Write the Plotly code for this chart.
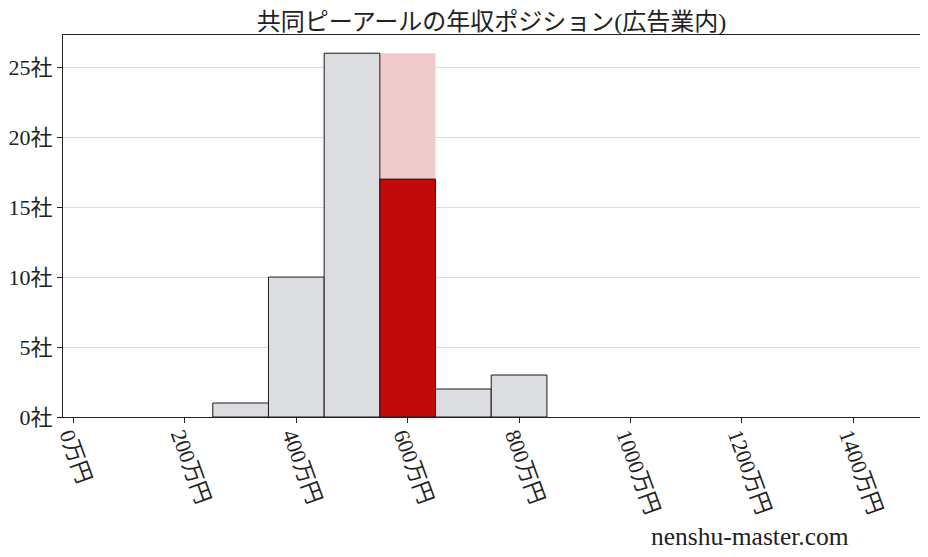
import plotly.graph_objects as go

# --- Data ---
bin_centers = [300, 400, 500, 600, 700, 800]
counts = [1, 10, 26, 17, 2, 3]
company_bin = 600
x_ticks = [0, 200, 400, 600, 800, 1000, 1200, 1400]
y_ticks = [0, 5, 10, 15, 20, 25]

FONT = "Liberation Serif, Noto Sans CJK JP, serif"

# --- Colours ---
bar_colors = ["#c20a0a" if c == company_bin else "#dcdde0" for c in bin_centers]

fig = go.Figure()

# highlight column behind the company's bin
fig.add_trace(go.Bar(
    x=[company_bin], y=[max(counts)], width=100,
    marker=dict(color="#f0cbcb", line=dict(width=0)),
    hoverinfo="skip", showlegend=False,
))

fig.add_trace(go.Bar(
    x=bin_centers, y=counts, width=100,
    marker=dict(color=bar_colors, line=dict(color="#1a1a1a", width=1)),
    showlegend=False,
))

# page body adds an 8px offset, so size/margins are trimmed to compensate
fig.update_layout(
    width=920, height=549,
    barmode="overlay",
    plot_bgcolor="white", paper_bgcolor="white",
    margin=dict(l=55, r=8, t=27, b=140),
    font=dict(family=FONT, size=22, color="#222222"),
    title=dict(
        text="共同ピーアールの年収ポジション(広告業内)",
        x=0.5, xref="paper", xanchor="center",
        y=1.0, yanchor="top", pad=dict(t=5),
        font=dict(family=FONT, size=24, color="#222222"),
    ),
    xaxis=dict(
        range=[-19, 1520],
        tickvals=x_ticks,
        ticktext=[f"{v}万円" for v in x_ticks],
        tickangle=70,
        ticklabelshift=-4,
        ticklabelstandoff=-9,
        ticks="outside", ticklen=5, tickcolor="#222222",
        showgrid=False, zeroline=False, automargin=False,
        showline=True, linecolor="#222222", linewidth=1, mirror=True,
        tickfont=dict(family=FONT, size=22),
    ),
    yaxis=dict(
        range=[0, 27.3],
        tickvals=y_ticks,
        ticktext=[f"{v}社" for v in y_ticks],
        ticks="outside", ticklen=5, tickcolor="#222222",
        showgrid=True, gridcolor="#dddddd", gridwidth=1,
        zeroline=False, automargin=False,
        showline=True, linecolor="#222222", linewidth=1, mirror=True,
        tickfont=dict(family=FONT, size=22),
    ),
    annotations=[dict(
        text="nenshu-master.com",
        xref="paper", yref="paper",
        x=0.92, y=-0.314, xanchor="right", yanchor="middle",
        showarrow=False,
        font=dict(family=FONT, size=25.5, color="#222222"),
    )],
)

fig.write_html("out.html")
